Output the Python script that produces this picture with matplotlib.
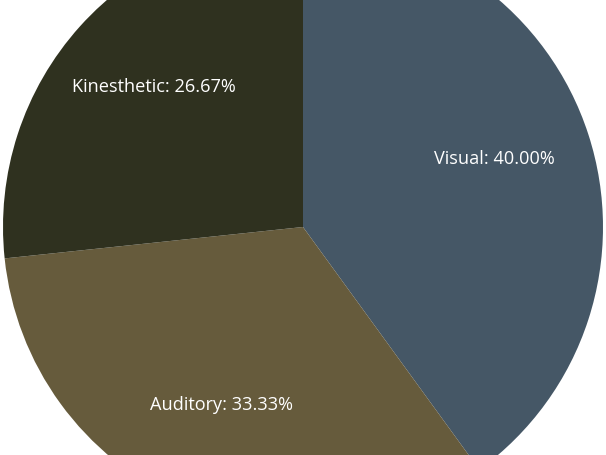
import matplotlib
matplotlib.use("Agg")
import matplotlib.pyplot as plt

labels = ["Visual", "Auditory", "Kinesthetic"]
values = [40.00, 33.33, 26.67]
colors = ["#455766", "#665b3c", "#2f311f"]

fig = plt.figure(figsize=(6.06, 4.55), dpi=100)
ax = fig.add_axes([0, 0, 1, 1])
wedges, texts, autotexts = ax.pie(
    values, colors=colors, startangle=90, counterclock=False,
    radius=1.0, autopct=lambda p: "", labeldistance=None, pctdistance=0.67,
    wedgeprops=dict(linewidth=0)
)
for at, lab, v in zip(autotexts, labels, values):
    at.set_text(f"{lab}: {v:.2f}%")
    at.set_color("white")
    at.set_fontsize(13.1)
    at.set_family(["Open Sans", "DejaVu Sans"])
    x, y = at.get_position()
    at.set_position((x, y + 5.5/300))
ax.set_xlim(-303/300, 303/300)
ax.set_ylim(-228/300, 227/300)
ax.set_aspect("auto")
ax.axis("off")
fig.savefig("out.png", dpi=100)
